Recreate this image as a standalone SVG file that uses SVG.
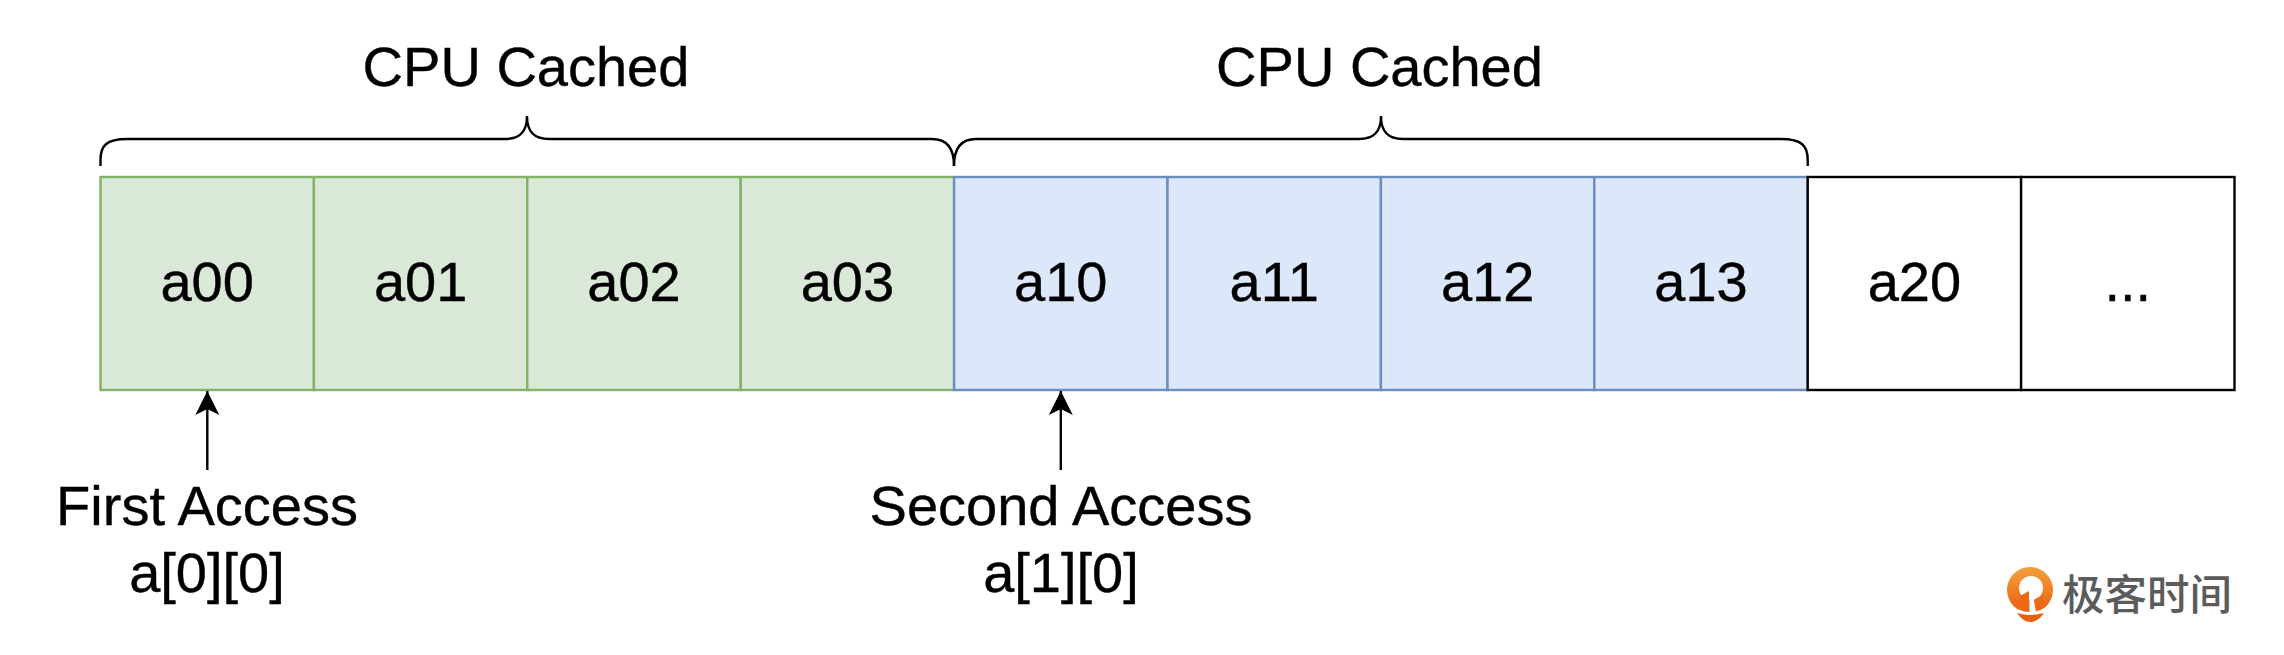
<svg xmlns="http://www.w3.org/2000/svg" width="2284" height="655" viewBox="0 0 2284 655">
  <style>
    text{font-family:"Liberation Sans",Arial,sans-serif;font-size:56px;fill:#000;stroke:#000;stroke-width:.4;text-anchor:middle}
    .g{fill:#d9e8d7;stroke:#82b366;stroke-width:2.4}
    .b{fill:#dce7f9;stroke:#6c8ebf;stroke-width:2.4}
    .w{fill:#fff;stroke:#000;stroke-width:2.4}
    .c{fill:none;stroke:#000;stroke-width:2.4;stroke-linecap:butt}
    text.logo{font-family:"Noto Sans CJK SC","Liberation Sans",sans-serif;font-size:42.5px;font-weight:500;fill:#5b5b5b;stroke:none;text-anchor:start}
  </style>
  <defs>
    <linearGradient id="og" x1="0" y1="0" x2="0" y2="1"><stop offset="0" stop-color="#f5a03c"/><stop offset="1" stop-color="#ea5f10"/></linearGradient>
    <marker id="ah" markerUnits="userSpaceOnUse" markerWidth="26" markerHeight="26" refX="24" refY="12.5" orient="auto">
      <path d="M0 0.5L24 12.5L0 24.5L6 12.5Z" fill="#000"/>
    </marker>
  </defs>
  <g id="a00"><rect class="g" x="100.5" y="177" width="213.4" height="213"/><text x="207.2" y="301">a00</text></g>
  <g id="a01"><rect class="g" x="313.9" y="177" width="213.4" height="213"/><text x="420.6" y="301">a01</text></g>
  <g id="a02"><rect class="g" x="527.3" y="177" width="213.4" height="213"/><text x="634" y="301">a02</text></g>
  <g id="a03"><rect class="g" x="740.7" y="177" width="213.4" height="213"/><text x="847.4" y="301">a03</text></g>
  <g id="a10"><rect class="b" x="954.1" y="177" width="213.4" height="213"/><text x="1060.8" y="301">a10</text></g>
  <g id="a11"><rect class="b" x="1167.5" y="177" width="213.4" height="213"/><text x="1274.2" y="301">a11</text></g>
  <g id="a12"><rect class="b" x="1380.9" y="177" width="213.4" height="213"/><text x="1487.6" y="301">a12</text></g>
  <g id="a13"><rect class="b" x="1594.3" y="177" width="213.4" height="213"/><text x="1701" y="301">a13</text></g>
  <g id="a20"><rect class="w" x="1807.7" y="177" width="213.4" height="213"/><text x="1914.4" y="301">a20</text></g>
  <g id="more"><rect class="w" x="2021.1" y="177" width="213.4" height="213"/><text x="2127.8" y="301">...</text></g>
  <g id="connectors">
    <path class="c" d="M100.5 166V160C100.5 146 106 139 127 139H505C518 139 527 134 527 116C527 134 536 139 549 139H932C945 139 954 146 954 166"/>
    <path class="c" d="M954 166C954 146 963 139 976 139H1359C1372 139 1381 134 1381 116C1381 134 1390 139 1403 139H1781C1802 139 1807.7 146 1807.7 160V166"/>
    <path class="c" marker-end="url(#ah)" d="M207.3 470V391"/>
    <path class="c" marker-end="url(#ah)" d="M1060.8 470V391"/>
  </g>
  <g id="cached1"><text x="526" y="86">CPU Cached</text></g>
  <g id="cached2"><text x="1379.5" y="86">CPU Cached</text></g>
  <g id="first"><text x="207" y="525">First Access</text><text x="207" y="592">a[0][0]</text></g>
  <g id="second"><text x="1061" y="525">Second Access</text><text x="1061" y="592">a[1][0]</text></g>
  <g id="logo">
    <circle cx="2030" cy="590" r="23" fill="url(#og)"/>
    <circle cx="2031" cy="588" r="12" fill="#fff"/>
    <path d="M2020 596L2029 591V612H2016Z" fill="#ec6a14"/>
    <path d="M2036 598H2044L2040 612H2034Z" fill="#ec6a14"/>
    <path d="M2029.5 590H2032L2036 612L2029.5 614Z" fill="#fff"/>
    <path d="M2012 606Q2030 618 2048 606L2048 614H2012Z" fill="#fff"/>
    <path d="M2017 613Q2030 617 2044 613Q2038 622 2030.5 622Q2023 622 2017 613Z" fill="#ea5f10"/>
    <text class="logo" x="2062" y="610">极客时间</text>
  </g>
</svg>
